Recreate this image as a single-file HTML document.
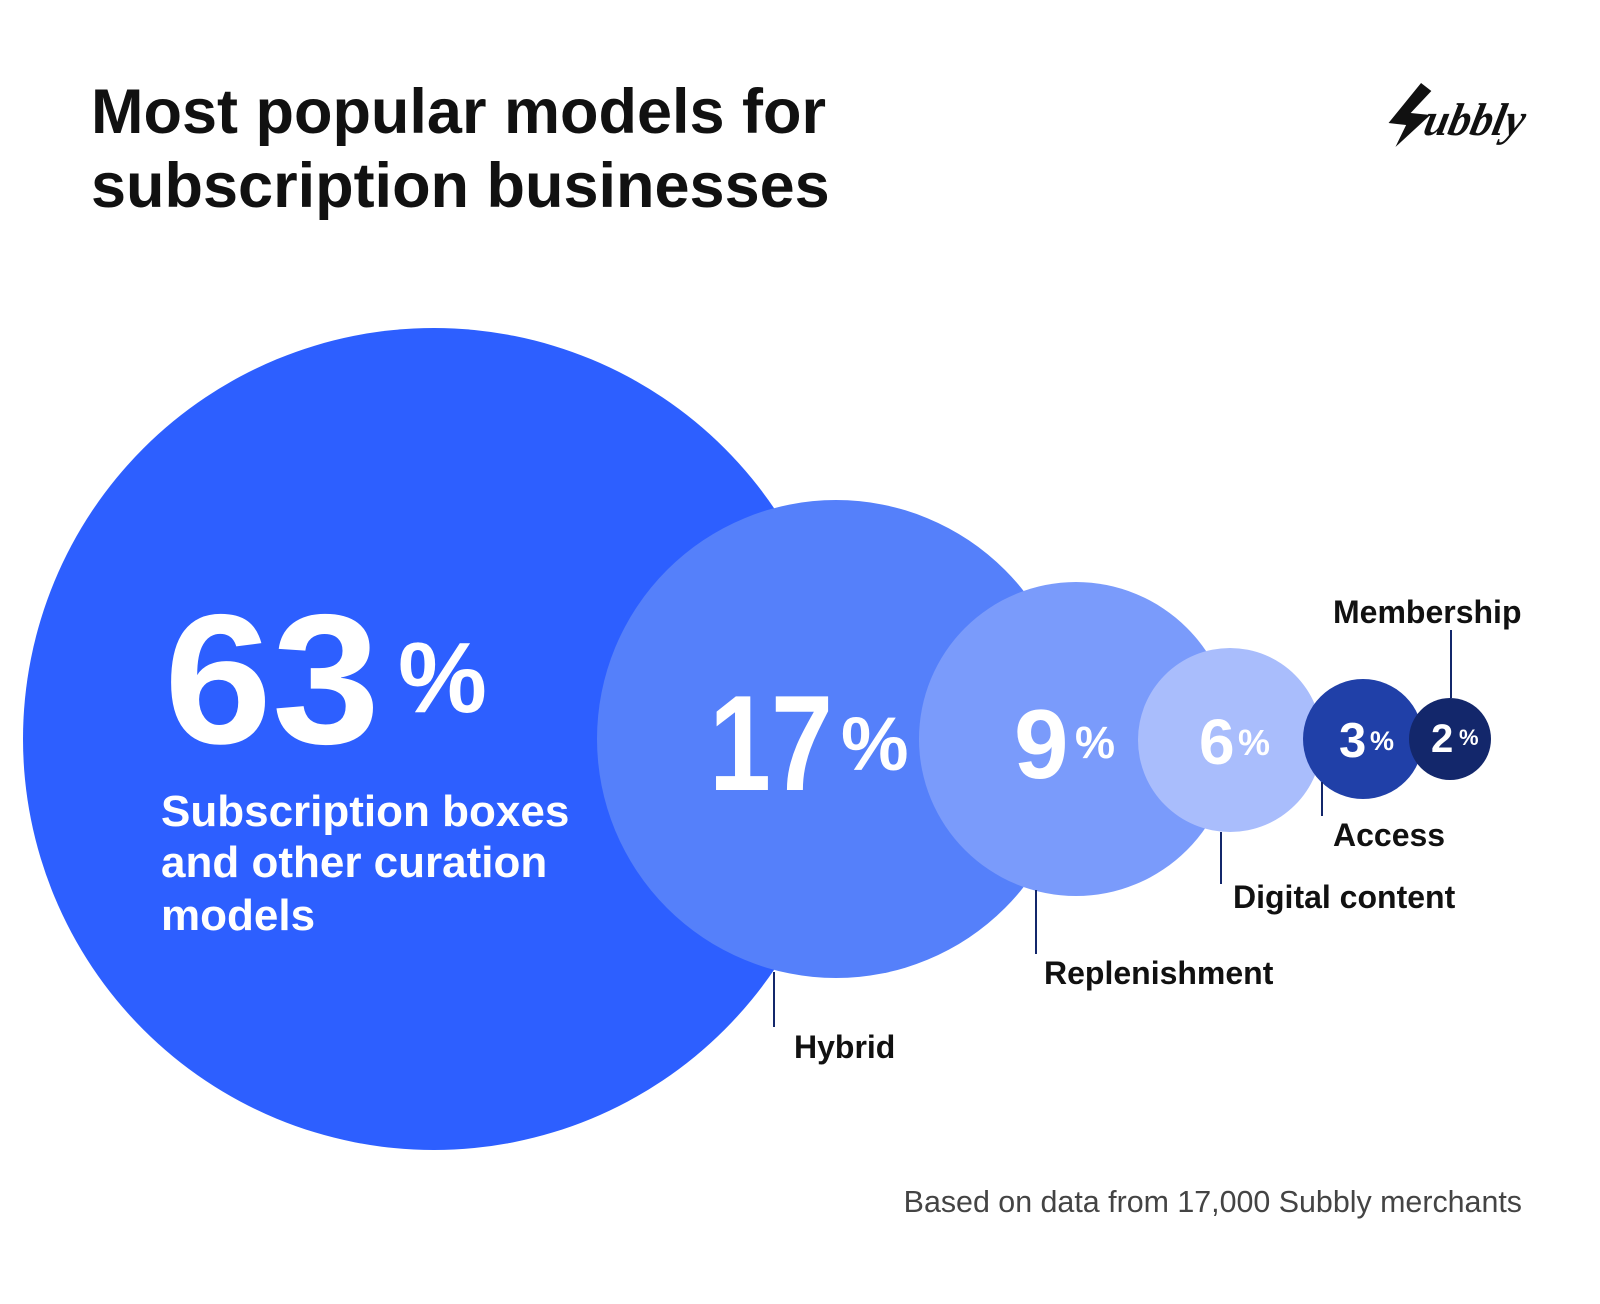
<!DOCTYPE html>
<html><head><meta charset="utf-8"><style>
html,body{margin:0;padding:0;background:#fff;}
svg{display:block;}
</style></head><body>
<svg width="1600" height="1304" viewBox="0 0 1600 1304" xmlns="http://www.w3.org/2000/svg" font-family="Liberation Sans, sans-serif">
<rect width="1600" height="1304" fill="#fff"/>
<text x="91" y="133" font-size="63" font-weight="700" fill="#111">Most popular models for</text>
<text x="91" y="207" font-size="63" font-weight="700" fill="#111">subscription businesses</text>
<g transform="translate(1392,135) skewX(-12)">
<path d="M18,-52 L30,-44 L14,-22 L34,-20 L6,12 L12,-10 L-6,-12 Z" fill="#111"/>
<text x="30" y="0" font-size="46" font-weight="700" font-style="italic" font-family="Liberation Serif, serif" fill="#111" textLength="100" lengthAdjust="spacingAndGlyphs">ubbly</text>
</g>
<circle cx="434" cy="739" r="411" fill="#2d5fff"/>
<circle cx="836" cy="739" r="239" fill="#5580fa"/>
<circle cx="1076" cy="739" r="157" fill="#7a9bfb"/>
<circle cx="1230" cy="740" r="92" fill="#a9bdfc"/>
<circle cx="1363" cy="739" r="60" fill="#2040a8"/>
<circle cx="1450" cy="739" r="41" fill="#13276b"/>
<g fill="#fff" font-weight="700">
<text x="164" y="743" font-size="185" textLength="216" lengthAdjust="spacingAndGlyphs">63</text>
<text x="398" y="712" font-size="100">%</text>
<text x="161" y="826" font-size="44">Subscription boxes</text>
<text x="161" y="877" font-size="44">and other curation</text>
<text x="161" y="930" font-size="44">models</text>
<text x="709" y="790" font-size="136" textLength="124" lengthAdjust="spacingAndGlyphs">17</text>
<text x="841" y="770" font-size="76">%</text>
<text x="1014" y="778" font-size="98">9</text>
<text x="1075" y="758" font-size="45">%</text>
<text x="1199" y="764" font-size="64">6</text>
<text x="1238" y="755" font-size="36">%</text>
<text x="1339" y="757" font-size="49">3</text>
<text x="1370" y="750" font-size="27">%</text>
<text x="1431" y="752" font-size="40">2</text>
<text x="1459" y="745" font-size="22">%</text>
</g>
<g stroke="#13276b" stroke-width="2">
<line x1="774" y1="972" x2="774" y2="1027"/>
<line x1="1036" y1="890" x2="1036" y2="954"/>
<line x1="1221" y1="832" x2="1221" y2="884"/>
<line x1="1322" y1="782" x2="1322" y2="816"/>
<line x1="1451" y1="630" x2="1451" y2="698"/>
</g>
<g fill="#111" font-weight="700" font-size="32">
<text x="794" y="1058">Hybrid</text>
<text x="1044" y="984">Replenishment</text>
<text x="1233" y="908">Digital content</text>
<text x="1333" y="846">Access</text>
<text x="1333" y="623">Membership</text>
</g>
<text x="1522" y="1212" font-size="30.4" fill="#444" text-anchor="end">Based on data from 17,000 Subbly merchants</text>
</svg>
</body></html>
